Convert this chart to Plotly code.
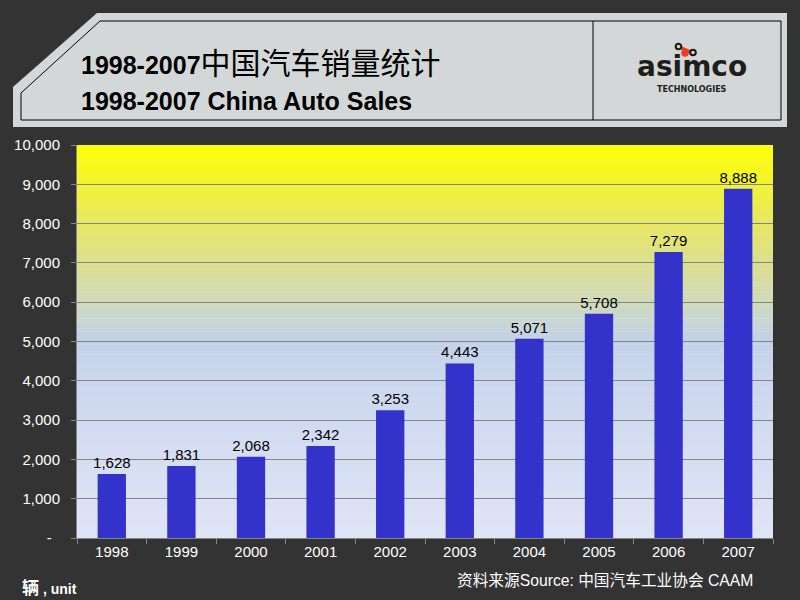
import numpy as np
import plotly.graph_objects as go

# ---- data ----
years = ["1998", "1999", "2000", "2001", "2002", "2003", "2004", "2005", "2006", "2007"]
sales = [1628, 1831, 2068, 2342, 3253, 4443, 5071, 5708, 7279, 8888]
y_tickvals = [0, 1000, 2000, 3000, 4000, 5000, 6000, 7000, 8000, 9000, 10000]
y_ticktext = ["-\u00a0\u00a0"] + [f"{v:,}" for v in y_tickvals[1:]]

title_cn = "<b>1998-2007</b><span style=\"font-size:30px\">中国汽车销量统计</span>"
title_en = "<b>1998-2007 China Auto Sales</b>"
unit_text = "<b><span style=\"font-size:17px\">辆</span> , unit</b>"
source_text = "资料来源Source: 中国汽车工业协会 CAAM"

# ---- geometry ----
W, H = 800, 600
ML, MR, MT, MB = 77, 27, 145, 62
PW, PH = W - ML - MR, H - MT - MB


def px(x):
    return (x - ML) / PW


def py(y):
    return (H - MB - y) / PH


BG = "#333333"
GRID = "#858585"

fig = go.Figure()
fig.add_trace(go.Bar(
    x=years, y=sales,
    marker=dict(color="#3333cc", line=dict(width=0)),
    text=[f"{v:,}" for v in sales], textposition="outside", constraintext="none",
    textfont=dict(color="#000000", size=15, family="Liberation Sans, Arial"),
    cliponaxis=False, hoverinfo="skip",
))

shapes = []
# gradient plot background
stops = [(0.0, "#dfe5f5"), (0.2, "#d6def2"), (0.4, "#cbd7ef"), (0.5, "#c3d1e9"),
         (0.55, "#c8d6d4"), (0.6, "#d0dab9"), (0.7, "#dcdf8c"), (0.8, "#e7e862"),
         (0.9, "#f3f32f"), (1.0, "#ffff00")]


def hex2rgb(h):
    return np.array([int(h[i:i + 2], 16) for i in (1, 3, 5)], dtype=float)


st_t = np.array([s[0] for s in stops])
st_c = np.array([hex2rgb(s[1]) for s in stops])
N = 120
edges = np.linspace(0, 10000, N + 1)
for i in range(N):
    t = (edges[i] + edges[i + 1]) / 2 / 10000
    c = [np.interp(t, st_t, st_c[:, k]) for k in range(3)]
    shapes.append(dict(type="rect", xref="x domain", yref="y", x0=0, x1=1,
                       y0=edges[i], y1=min(edges[i + 1] + 5, 10000),
                       fillcolor="rgb(%d,%d,%d)" % tuple(int(round(v)) for v in c),
                       line=dict(width=0), layer="below"))

# header panel
outer = [(97, 13), (787, 13), (787, 127), (13, 127), (13, 87)]
inner = [(100, 21), (781, 21), (781, 120), (21, 120), (21, 93)]


def path(pts):
    return "M " + " L ".join(f"{px(x):.5f},{py(y):.5f}" for x, y in pts) + " Z"


shapes.append(dict(type="path", xref="paper", yref="paper", path=path(outer),
                   fillcolor="#d4d7d8", line=dict(width=0), layer="above"))
shapes.append(dict(type="path", xref="paper", yref="paper", path=path(inner),
                   fillcolor="rgba(0,0,0,0)", line=dict(color="#000000", width=1), layer="above"))
shapes.append(dict(type="line", xref="paper", yref="paper", x0=px(593), x1=px(593),
                   y0=py(21), y1=py(120), line=dict(color="#000000", width=1), layer="above"))

# logo icon
shapes.append(dict(type="line", xref="paper", yref="paper", x0=px(679), y0=py(47),
                   x1=px(693), y1=py(53), line=dict(color="#e8401c", width=3), layer="above"))
for (cx, cy, fc, lc) in [(678.5, 46.5, "#d4d7d8", "#1a1a1a"), (685, 53, "#e8401c", "#e8401c"),
                         (693, 52.5, "#d4d7d8", "#1a1a1a")]:
    r = 2.8
    shapes.append(dict(type="circle", xref="paper", yref="paper",
                       x0=px(cx - r), x1=px(cx + r), y0=py(cy + r), y1=py(cy - r),
                       fillcolor=fc, line=dict(color=lc, width=2), layer="above"))

TFONT = "Liberation Sans, Arial, Noto Sans CJK SC"
annotations = [
    dict(text=title_cn, x=px(79), y=py(63), xref="paper", yref="paper",
         xanchor="left", yanchor="middle", showarrow=False,
         font=dict(size=25, color="#000000", family=TFONT)),
    dict(text=title_en, x=px(79), y=py(101), xref="paper", yref="paper",
         xanchor="left", yanchor="middle", showarrow=False,
         font=dict(size=25, color="#000000", family=TFONT)),
    dict(text="<b>asimco</b>", x=px(692), y=py(67), xref="paper", yref="paper",
         xanchor="center", yanchor="middle", showarrow=False,
         font=dict(size=28, color="#1e1e1a", family="DejaVu Sans")),
    dict(text="<b>TECHNOLOGIES</b>", x=px(692), y=py(89), xref="paper", yref="paper",
         xanchor="center", yanchor="middle", showarrow=False,
         font=dict(size=8, color="#1e1e1a", family="DejaVu Sans")),
    dict(text=unit_text, x=px(20), y=py(588), xref="paper", yref="paper",
         xanchor="left", yanchor="middle", showarrow=False,
         font=dict(size=14, color="#ffffff", family="Liberation Sans, Noto Sans CJK SC")),
    dict(text=source_text, x=px(755), y=py(580), xref="paper", yref="paper",
         xanchor="right", yanchor="middle", showarrow=False,
         font=dict(size=15.7, color="#ffffff", family="Liberation Sans, Noto Sans CJK SC")),
]

fig.update_layout(
    width=W, height=H,
    margin=dict(l=ML, r=MR, t=MT, b=MB, pad=0),
    paper_bgcolor=BG, plot_bgcolor="#dfe5f5",
    bargap=0.593, showlegend=False,
    shapes=shapes, annotations=annotations,
    font=dict(family="Liberation Sans, Arial", size=15, color="#ffffff"),
    xaxis=dict(type="category", showgrid=False, showline=True, linecolor=GRID, linewidth=1,
               ticks="outside", tickson="boundaries", ticklen=5, tickcolor=GRID,
               tickfont=dict(size=15, color="#ffffff"), fixedrange=True),
    yaxis=dict(range=[0, 10000], tickvals=y_tickvals, ticktext=y_ticktext,
               showgrid=True, gridcolor=GRID, gridwidth=1, zeroline=False,
               showline=True, linecolor=GRID, linewidth=1,
               ticks="outside", ticklen=5, tickcolor=GRID, ticklabelstandoff=8,
               tickfont=dict(size=15, color="#ffffff"), fixedrange=True),
)

fig.write_html("out.html")
